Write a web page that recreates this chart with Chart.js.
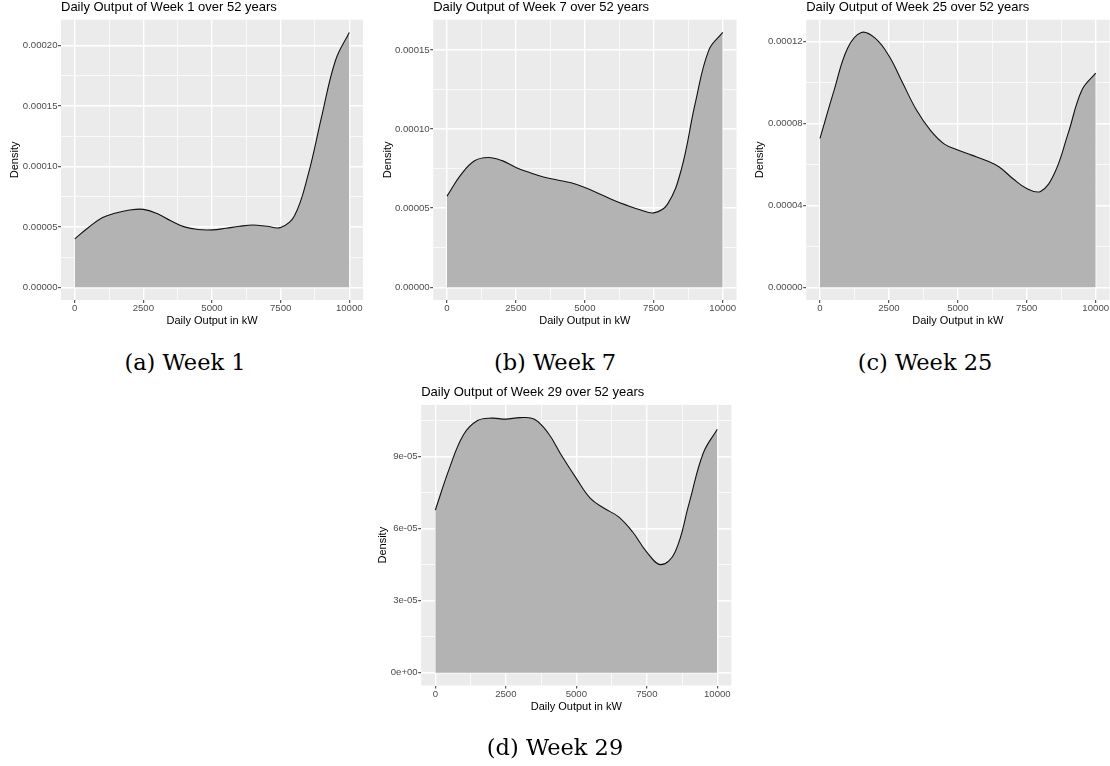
<!DOCTYPE html>
<html>
<head>
<meta charset="utf-8">
<script src="https://cdn.jsdelivr.net/npm/chart.js@4.4.1/dist/chart.umd.min.js"></script>
<style>
  html, body { margin: 0; padding: 0; background: #fff; }
  body { width: 1110px; height: 766px; position: relative; overflow: hidden; }
  canvas { position: absolute; }
  .cap {
    position: absolute; width: 370px; text-align: center;
    font-family: 'DejaVu Serif', serif; font-size: 22.5px; line-height: 22.5px; color: #000;
  }
</style>
</head>
<body>
<canvas id="week1" width="370" height="335" style="left:0px;top:0px"></canvas>
<canvas id="week7" width="370" height="335" style="left:370px;top:0px"></canvas>
<canvas id="week25" width="370" height="335" style="left:740px;top:0px"></canvas>
<canvas id="week29" width="370" height="380" style="left:370px;top:385px"></canvas>
<div class="cap" style="left:0px;top:351px">(a) Week 1</div>
<div class="cap" style="left:370px;top:351px">(b) Week 7</div>
<div class="cap" style="left:740px;top:351px">(c) Week 25</div>
<div class="cap" style="left:370px;top:736px">(d) Week 29</div>
<script>
const outputKw = [0, 500, 1000, 1500, 2000, 2500, 3000, 3500, 4000, 4500, 5000,
  5500, 6000, 6500, 7000, 7500, 8000, 8500, 9000, 9500, 10000];

// density estimates per week
const week1 = [4.00e-5, 4.95e-5, 5.75e-5, 6.15e-5, 6.40e-5, 6.45e-5, 6.10e-5, 5.50e-5, 5.00e-5, 4.78e-5, 4.75e-5,
  4.88e-5, 5.05e-5, 5.15e-5, 5.05e-5, 4.95e-5, 5.90e-5, 9.30e-5, 1.42e-4, 1.88e-4, 2.11e-4];
const week7 = [5.76e-5, 7.10e-5, 7.99e-5, 8.20e-5, 8.00e-5, 7.57e-5, 7.25e-5, 6.97e-5, 6.78e-5, 6.60e-5, 6.30e-5,
  5.93e-5, 5.53e-5, 5.19e-5, 4.90e-5, 4.70e-5, 5.25e-5, 7.45e-5, 1.16e-4, 1.50e-4, 1.61e-4];
const week25 = [7.27e-5, 9.56e-5, 1.167e-4, 1.244e-4, 1.216e-4, 1.13e-4, 9.97e-5, 8.65e-5, 7.67e-5, 7.00e-5, 6.70e-5,
  6.45e-5, 6.20e-5, 5.87e-5, 5.30e-5, 4.82e-5, 4.68e-5, 5.55e-5, 7.51e-5, 9.63e-5, 1.045e-4];
const week29 = [6.77e-5, 8.51e-5, 9.91e-5, 1.05e-4, 1.06e-4, 1.056e-4, 1.062e-4, 1.056e-4, 9.98e-5, 9.00e-5, 8.09e-5,
  7.26e-5, 6.84e-5, 6.49e-5, 5.86e-5, 5.02e-5, 4.50e-5, 5.02e-5, 7.05e-5, 9.14e-5, 1.014e-4];

// tick labels
const xTicks = [0, 2500, 5000, 7500, 10000];
const xTickLabels = ['0', '2500', '5000', '7500', '10000'];
const yTicks1 = [0, 0.00005, 0.0001, 0.00015, 0.0002];
const yTickLabels1 = ['0.00000', '0.00005', '0.00010', '0.00015', '0.00020'];
const yTicks7 = [0, 0.00005, 0.0001, 0.00015];
const yTickLabels7 = ['0.00000', '0.00005', '0.00010', '0.00015'];
const yTicks25 = [0, 0.00004, 0.00008, 0.00012];
const yTickLabels25 = ['0.00000', '0.00004', '0.00008', '0.00012'];
const yTicks29 = [0, 0.00003, 0.00006, 0.00009];
const yTickLabels29 = ['0e+00', '3e-05', '6e-05', '9e-05'];

Chart.defaults.font.family = "'Liberation Sans', Arial, sans-serif";

const panelBg = {
  id: 'panelBg',
  beforeDraw(chart) {
    const { ctx, chartArea: a } = chart;
    ctx.save();
    ctx.fillStyle = '#EBEBEB';
    ctx.fillRect(a.left, a.top, a.right - a.left, a.bottom - a.top);
    ctx.restore();
  }
};

// majors + ggplot-style minor breaks (midpoints) inside the range
function buildTicks(majors, labels, min, max) {
  const step = majors[1] - majors[0];
  const out = majors.map((v, i) => ({ value: v, isMajor: true, lbl: labels[i] }));
  for (let i = -1; i < majors.length; i++) {
    const m = majors[0] + step * (i + 0.5);
    if (m > min && m < max) out.push({ value: m, isMajor: false, lbl: '' });
  }
  return out.sort((p, q) => p.value - q.value);
}

function gridOpts() {
  return {
    color: '#FFFFFF',
    lineWidth: (c) => (c.tick && c.tick.isMajor ? 1.4 : 0.7),
    tickColor: (c) => (c.tick && c.tick.isMajor ? '#333333' : 'rgba(0,0,0,0)'),
    tickWidth: 1,
    tickLength: 3,
    drawTicks: true
  };
}

function makePanel(id, title, ys, yTicks, yLabels, g) {
  const ymax = Math.max(...ys);
  const ymin = -0.05 * ymax;
  const ytop = 1.05 * ymax;
  new Chart(document.getElementById(id), {
    type: 'line',
    data: {
      datasets: [{
        data: outputKw.map((x, i) => ({ x: x, y: ys[i] })),
        borderColor: '#111111',
        borderWidth: 1.1,
        backgroundColor: '#B3B3B3',
        fill: 'origin',
        pointRadius: 0,
        tension: 0.4
      }]
    },
    options: {
      responsive: false,
      animation: false,
      layout: { padding: { left: 0, top: 0, right: g.padRight, bottom: g.padBottom } },
      plugins: {
        legend: { display: false },
        tooltip: { enabled: false },
        title: {
          display: true,
          text: title,
          align: 'start',
          fullSize: false,
          color: '#000',
          font: { size: 13, weight: 'normal' },
          padding: { top: 0, bottom: g.titleGap }
        }
      },
      scales: {
        x: {
          type: 'linear',
          min: -500,
          max: 10500,
          border: { display: false },
          grid: gridOpts(),
          ticks: {
            autoSkip: false, maxRotation: 0, padding: 0,
            color: '#4D4D4D', font: { size: 9.6 },
            callback: (v, i, t) => t[i].lbl
          },
          title: {
            display: true, text: 'Daily Output in kW', color: '#000',
            font: { size: 11 }, padding: { top: 0, bottom: 2 }
          },
          afterBuildTicks: (s) => { s.ticks = buildTicks(xTicks, xTickLabels, -500, 10500); },
          afterFit: (s) => { s.height = 30; }
        },
        y: {
          min: ymin,
          max: ytop,
          border: { display: false },
          grid: gridOpts(),
          ticks: {
            autoSkip: false, padding: 0.5,
            color: '#4D4D4D', font: { size: 9.6 },
            callback: (v, i, t) => t[i].lbl
          },
          title: {
            display: true, text: 'Density', color: '#000',
            font: { size: 11 }, padding: { top: g.yTitlePad, bottom: 0 }
          },
          afterBuildTicks: (s) => { s.ticks = buildTicks(yTicks, yLabels, ymin, ytop); },
          afterFit: (s) => { s.width = g.yWidth; }
        }
      }
    },
    plugins: [panelBg]
  });
}

makePanel('week1', 'Daily Output of Week 1 over 52 years', week1, yTicks1, yTickLabels1,
  { yWidth: 61, padRight: 7, padBottom: 5, titleGap: 4.1, yTitlePad: 8.4 });
makePanel('week7', 'Daily Output of Week 7 over 52 years', week7, yTicks7, yTickLabels7,
  { yWidth: 63.2, padRight: 3.5, padBottom: 5, titleGap: 4.1, yTitlePad: 11.7 });
makePanel('week25', 'Daily Output of Week 25 over 52 years', week25, yTicks25, yTickLabels25,
  { yWidth: 66.2, padRight: 0.5, padBottom: 5, titleGap: 4.1, yTitlePad: 13.4 });
makePanel('week29', 'Daily Output of Week 29 over 52 years', week29, yTicks29, yTickLabels29,
  { yWidth: 51.2, padRight: 8.6, padBottom: 49.5, titleGap: 4.3, yTitlePad: 6.7 });
</script>
</body>
</html>
